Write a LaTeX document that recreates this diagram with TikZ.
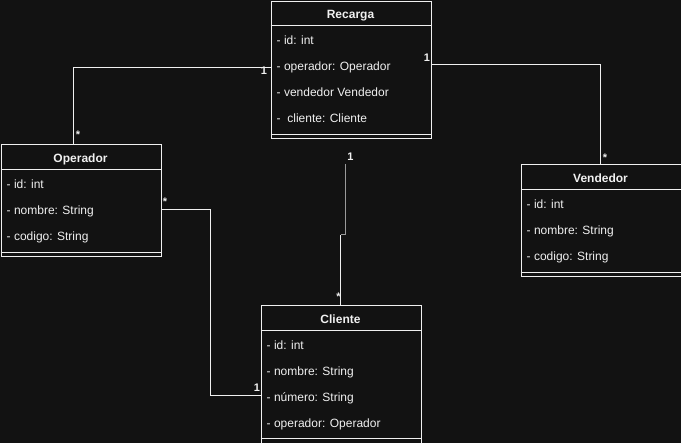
\documentclass[tikz,border=0pt]{standalone}
\usepackage{fontspec}
\setmainfont{Liberation Sans}
\usetikzlibrary{calc}
\definecolor{bg}{HTML}{121212}
\definecolor{fg}{HTML}{F0F0F0}
\definecolor{dim}{HTML}{9A9A9A}

\begin{document}
\begin{tikzpicture}[x=1pt,y=-1pt,
  classbox/.style={draw=fg, line width=1pt, rectangle, inner sep=0pt,
                   minimum width=160pt, anchor=north west},
  classtitle/.style={text=fg, font=\bfseries\fontsize{12}{14}\selectfont,
                     anchor=base, inner sep=0pt},
  attr/.style={text=fg, font=\fontsize{12}{14}\selectfont,
               anchor=base west, inner sep=0pt},
  mult/.style={text=fg, font=\bfseries\fontsize{11}{13}\selectfont,
               anchor=base, inner sep=0pt},
  wire/.style={draw=fg, line width=1pt},
]
\fill[bg] (0,0) rectangle (681,443);
\useasboundingbox (0,0) rectangle (681,443);
\clip (0,0) rectangle (681,443);

% ---------- Recarga ----------
\node[classbox, minimum height=137pt] (recarga) at (270.5,1) {};
\draw[wire] ([yshift=-25pt]recarga.north west) -- ([yshift=-25pt]recarga.north east);
\draw[wire] ([yshift=4pt]recarga.south west) -- ([yshift=4pt]recarga.south east);
\node[classtitle] (recarga-t) at (350.5,19) {Recarga};
\node[attr] (recarga-a1) at (276.5,45) {- id: int};
\node[attr] (recarga-a2) at (276.5,71) {- operador: Operador};
\node[attr] (recarga-a3) at (276.5,97) {- vendedor Vendedor};
\node[attr] (recarga-a4) at (276.5,123) {- \ cliente: Cliente};

% ---------- Operador ----------
\node[classbox, minimum height=112pt] (operador) at (0.5,144) {};
\draw[wire] ([yshift=-26pt]operador.north west) -- ([yshift=-26pt]operador.north east);
\draw[wire] ([yshift=4pt]operador.south west) -- ([yshift=4pt]operador.south east);
\node[classtitle] (operador-t) at (80.5,163) {Operador};
\node[attr] (operador-a1) at (6.5,189) {- id: int};
\node[attr] (operador-a2) at (6.5,215) {- nombre: String};
\node[attr] (operador-a3) at (6.5,241) {- codigo: String};

% ---------- Vendedor ----------
\node[classbox, minimum height=112pt] (vendedor) at (520.5,164) {};
\draw[wire] ([yshift=-26pt]vendedor.north west) -- ([yshift=-26pt]vendedor.north east);
\draw[wire] ([yshift=4pt]vendedor.south west) -- ([yshift=4pt]vendedor.south east);
\node[classtitle] (vendedor-t) at (600.5,183) {Vendedor};
\node[attr] (vendedor-a1) at (526.5,209) {- id: int};
\node[attr] (vendedor-a2) at (526.5,235) {- nombre: String};
\node[attr] (vendedor-a3) at (526.5,261) {- codigo: String};

% ---------- Cliente ----------
\node[classbox, minimum height=143pt] (cliente) at (260.5,305) {};
\draw[wire] ([yshift=-26pt]cliente.north west) -- ([yshift=-26pt]cliente.north east);
\draw[wire] ([yshift=-134pt]cliente.north west) -- ([yshift=-134pt]cliente.north east);
\node[classtitle] (cliente-t) at (340.5,324) {Cliente};
\node[attr] (cliente-a1) at (266.5,350) {- id: int};
\node[attr] (cliente-a2) at (266.5,376) {- nombre: String};
\node[attr] (cliente-a3) at (266.5,402) {- número: String};
\node[attr] (cliente-a4) at (266.5,428) {- operador: Operador};

% ---------- associations ----------
% Recarga -- Operador
\coordinate (ro) at (73.5,68);
\draw[wire] (recarga.west |- ro) -- (ro) -- (ro |- operador.north);
\node[mult] (ro-1) at (264,75) {1};
\node[mult] (ro-n) at (78,138.5) {*};

% Recarga -- Vendedor
\coordinate (rv) at (600.5,65);
\draw[wire] (recarga.east |- rv) -- (rv) -- (rv |- vendedor.north);
\node[mult] (rv-1) at (427,62) {1};
\node[mult] (rv-n) at (605,162) {*};

% Recarga -- Cliente
\coordinate (rc1) at (345.5,164);
\coordinate (rc2) at (345.5,235);
\coordinate (rc3) at (340.5,235);
\draw[wire, draw=dim] (rc1) -- (rc2) -- (rc3);
\draw[wire] (rc3) -- (rc3 |- cliente.north);
\node[mult] (rc-1) at (350.5,161) {1};
\node[mult] (rc-n) at (338.5,301) {*};

% Operador -- Cliente
\coordinate (oc1) at (210.5,210);
\coordinate (oc2) at (210.5,395.5);
\draw[wire] (operador.east |- oc1) -- (oc1) -- (oc2) -- (oc2 -| cliente.west);
\node[mult] (oc-n) at (165,206) {*};
\node[mult] (oc-1) at (257,392) {1};
\end{tikzpicture}
\end{document}
